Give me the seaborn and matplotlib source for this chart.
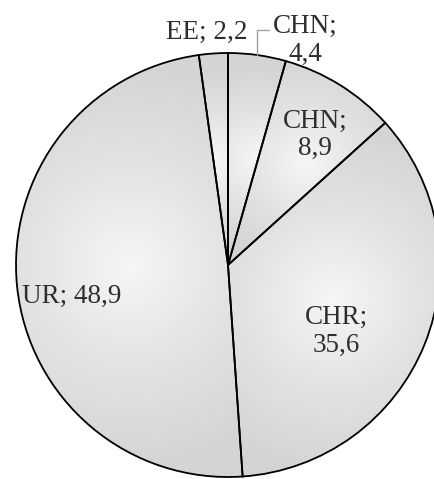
import numpy as np
import matplotlib
matplotlib.use("Agg")
import matplotlib.pyplot as plt
import seaborn as sns
from matplotlib.colors import LinearSegmentedColormap

# data
labels = ["CHN", "CHN", "CHR", "UR", "EE"]
shares = [4.4, 8.9, 35.6, 48.9, 2.2]
label_texts = ["CHN;\n4,4", "CHN;\n8,9", "CHR;\n35,6", "UR; 48,9", "EE; 2,2"]

# label placement: (radius as fraction of pie radius, angle shift in degrees)
label_pos = [(1.12, -11), (0.74, -2), (0.60, -9.5), (0.75, 5.5), (1.10, 1.2)]

sns.set_theme(style="white")
plt.rcParams["font.family"] = ["Liberation Serif", "DejaVu Serif"]

R = 212
fig = plt.figure(figsize=(4.35, 4.79), dpi=100)
ax = fig.add_axes([0, 0, 1, 1])

wedges, _ = ax.pie(shares, startangle=90, counterclock=False, radius=R,
                   colors=["none"] * len(shares),
                   wedgeprops=dict(edgecolor="black", linewidth=1.3, zorder=3))

# radial gradient fill per slice (centered on slice bounding box)
cmap = LinearSegmentedColormap.from_list("g", ["#f6f6f6", "#e3e3e3", "#d4d4d4"])
xs = np.linspace(-228, 207, 435)
ys = np.linspace(-214, 265, 479)
X, Y = np.meshgrid(xs, ys)
for w in wedges:
    th = np.radians(np.linspace(w.theta1, w.theta2, 200))
    px = np.concatenate([[0], R * np.cos(th)])
    py = np.concatenate([[0], R * np.sin(th)])
    cx, cy = (px.min() + px.max()) / 2, (py.min() + py.max()) / 2
    rad = np.hypot(px.max() - px.min(), py.max() - py.min()) / 2
    d = np.clip(np.hypot(X - cx, Y - cy) / (rad * 0.85), 0, 1)
    im = ax.imshow(d, extent=(xs[0], xs[-1], ys[0], ys[-1]), origin="lower",
                   cmap=cmap, vmin=0, vmax=1, zorder=1, interpolation="bilinear")
    im.set_clip_path(w)

ax.set_xlim(-228, 435 - 228)
ax.set_ylim(-(479 - 265), 265)
ax.set_aspect("auto")
ax.axis("off")

# labels
for w, txt, (fr, shift) in zip(wedges, label_texts, label_pos):
    mid = np.radians((w.theta1 + w.theta2) / 2 + shift)
    ax.text(fr * R * np.cos(mid), fr * R * np.sin(mid), txt, ha="center",
            va="center", fontsize=19.5, color="#2e2e2e", zorder=4,
            linespacing=1.12)

# leader line for the small CHN slice
w = wedges[0]
mid = np.radians((w.theta1 + w.theta2) / 2)
x0, y0 = R * np.cos(mid), R * np.sin(mid)
ax.plot([x0, x0, x0 + 12], [y0, 235, 235], color="#a0a0a0", lw=1, zorder=4)

fig.savefig("out.png", dpi=100)
